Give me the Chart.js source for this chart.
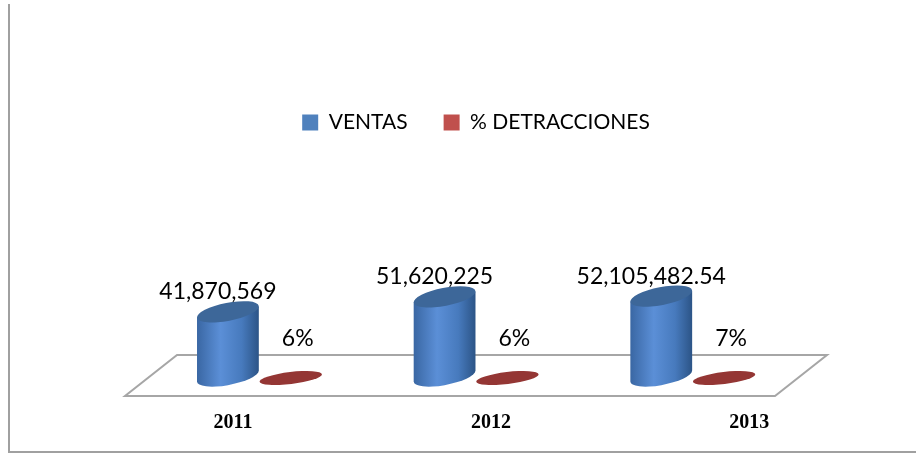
<!DOCTYPE html>
<html>
<head>
<meta charset="utf-8">
<script src="https://cdn.jsdelivr.net/npm/chart.js@4.4.1/dist/chart.umd.min.js"></script>
<style>
    html, body { margin: 0; padding: 0; background: #ffffff; }
    #wrap { width: 916px; height: 454px; }
</style>
</head>
<body>
<div id="wrap"><canvas id="chart" width="916" height="454"></canvas></div>
<script>
// chart values
const years = ["2011", "2012", "2013"];
const ventas = [41870569, 51620225, 52105482.54];
const detracciones = [6, 6, 7]; // percent

// 3D look: floor + cylinders drawn from the bar elements
const cylinderPlugin = {
    id: "cylinders",
    beforeDatasetsDraw(chart) {
        const ctx = chart.ctx;
        const area = chart.chartArea;
        const depth = 26;

        ctx.save();
        // floor
        ctx.beginPath();
        ctx.moveTo(area.left - depth, area.bottom + 20);
        ctx.lineTo(area.right - depth, area.bottom + 20);
        ctx.lineTo(area.right + depth, area.bottom - 21);
        ctx.lineTo(area.left + depth, area.bottom - 21);
        ctx.closePath();
        ctx.fillStyle = "#ffffff";
        ctx.fill();
        ctx.lineWidth = 2;
        ctx.strokeStyle = "#a6a6a6";
        ctx.stroke();

        const ventasMeta = chart.getDatasetMeta(0);
        const detMeta = chart.getDatasetMeta(1);

        years.forEach((year, i) => {
            const bar = ventasMeta.data[i];
            const tilt = -0.19;
            const a = bar.width / 2;
            const b = 9;
            const t0 = Math.atan2(-b * Math.sin(tilt), a * Math.cos(tilt));
            const pt = (cx, cy, t) => [
                cx + a * Math.cos(t) * Math.cos(tilt) - b * Math.sin(t) * Math.sin(tilt),
                cy + a * Math.cos(t) * Math.sin(tilt) + b * Math.sin(t) * Math.cos(tilt),
            ];
            const lt = pt(bar.x, bar.y, t0 + Math.PI);
            const lb = pt(bar.x, bar.base, t0 + Math.PI);
            const rt = pt(bar.x, bar.y, t0);

            const grad = ctx.createLinearGradient(bar.x - a, 0, bar.x + a, 0);
            grad.addColorStop(0, "#3966a2");
            grad.addColorStop(0.38, "#5b8fd7");
            grad.addColorStop(0.72, "#477abd");
            grad.addColorStop(1, "#2b5385");

            ctx.beginPath();
            ctx.moveTo(lt[0], lt[1]);
            ctx.lineTo(lb[0], lb[1]);
            ctx.ellipse(bar.x, bar.base, a, b, tilt, t0 + Math.PI, t0, true);
            ctx.lineTo(rt[0], rt[1]);
            ctx.closePath();
            ctx.fillStyle = grad;
            ctx.fill();

            ctx.beginPath();
            ctx.ellipse(bar.x, bar.y, a, b, tilt, 0, Math.PI * 2);
            ctx.fillStyle = "#3d6799";
            ctx.fill();

            // percent disk
            const disk = detMeta.data[i];
            ctx.beginPath();
            ctx.ellipse(disk.x, disk.y + 2, disk.width / 2, 6, -0.12, 0, Math.PI * 2);
            ctx.fillStyle = "#943634";
            ctx.fill();

            // value labels
            ctx.fillStyle = "#000000";
            ctx.font = "23px Lato";
            ctx.textAlign = "center";
            ctx.textBaseline = "middle";
            ctx.fillText(ventas[i].toLocaleString("en-US", { maximumFractionDigits: 2 }), bar.x - 10, bar.y - 20);
            ctx.fillText(detracciones[i] + "%", disk.x + 7, disk.y - 37);
        });
        ctx.restore();
        return false;
    },
    afterDraw(chart) {
        // page frame lines
        const ctx = chart.ctx;
        ctx.save();
        ctx.strokeStyle = "#a0a0a0";
        ctx.lineWidth = 2;
        ctx.beginPath();
        ctx.moveTo(9, 4);
        ctx.lineTo(9, 452);
        ctx.lineTo(916, 452);
        ctx.stroke();
        ctx.restore();
    },
};

const ctx = document.getElementById("chart").getContext("2d");
const chart = new Chart(ctx, {
    type: "bar",
    data: {
        labels: years,
        datasets: [
            {
                label: "VENTAS",
                data: ventas,
                backgroundColor: "#4f81bd",
            },
            {
                label: "% DETRACCIONES",
                data: detracciones,
                backgroundColor: "#c0504d",
            },
        ],
    },
    options: {
        responsive: false,
        animation: false,
        layout: { padding: { left: 151, right: 115, top: 76, bottom: 19 } },
        datasets: { bar: { categoryPercentage: 0.58, barPercentage: 1 } },
        plugins: {
            legend: {
                display: true,
                position: "top",
                labels: {
                    boxWidth: 16,
                    boxHeight: 16,
                    padding: 36,
                    color: "#000000",
                    font: { family: "Lato", size: 21 },
                },
            },
            tooltip: { enabled: false },
        },
        scales: {
            x: { display: false },
            yearAxis: {
                type: "linear",
                position: "bottom",
                axis: "x",
                offset: false,
                bounds: "data",
                min: -0.318,
                max: 2.201,
                afterBuildTicks: (axis) => {
                    axis.ticks = years.map((y, i) => ({ value: i }));
                },
                afterFit: (axis) => {
                    axis.height = 59;
                },
                grid: { display: false, drawTicks: false, offset: false },
                border: { display: false },
                ticks: {
                    padding: 35,
                    color: "#000000",
                    font: { family: "Liberation Serif", size: 20, weight: "bold" },
                    callback: (value) => years[value] ?? "",
                },
            },
            y: { display: false, min: 0, max: 152e6 },
        },
    },
    plugins: [cylinderPlugin],
});
</script>
</body>
</html>
